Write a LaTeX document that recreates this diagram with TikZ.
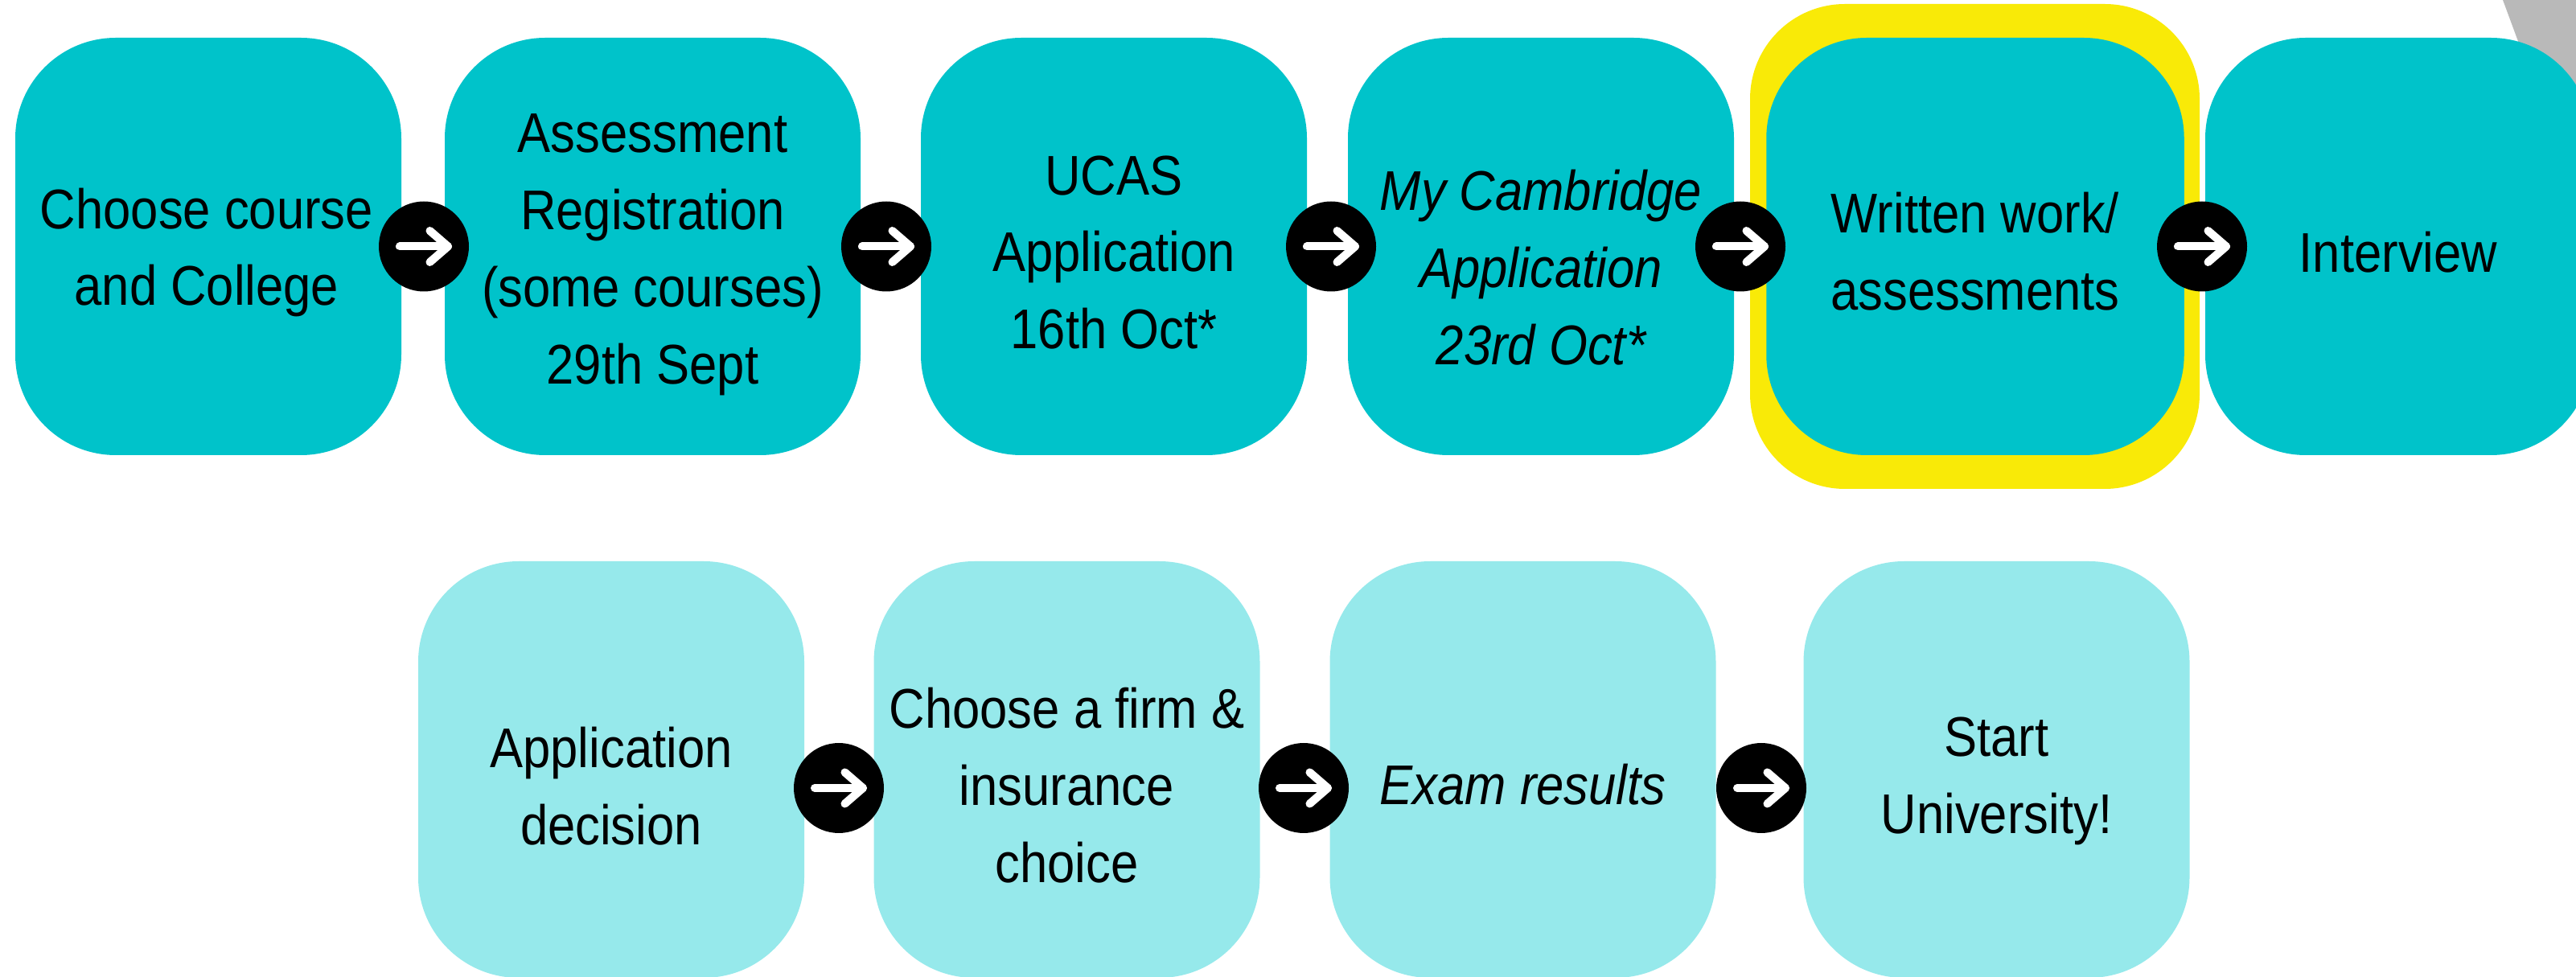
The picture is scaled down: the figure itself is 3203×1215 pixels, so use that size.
\documentclass[tikz,border=0pt]{standalone}
\usepackage{fontspec}
\setmainfont{Liberation Sans}[FakeStretch=0.885]
\definecolor{cyanA}{HTML}{00C3CA}
\definecolor{cyanB}{HTML}{96E9EB}
\definecolor{yellowA}{HTML}{F9EA07}
\definecolor{greyA}{HTML}{B9B9B9}
\tikzset{
  box/.style={rectangle, rounded corners=12.5mm, fill=cyanA, inner sep=0pt, minimum width=48mm, minimum height=51.9mm},
  lightbox/.style={box, fill=cyanB, minimum height=51.8mm},
  hilite/.style={rectangle, rounded corners=11.8mm, fill=yellowA, inner sep=0pt},
  arr/.style={circle, fill=black, minimum size=11.2mm, inner sep=0pt},
  whitearrow/.style={draw=white, line width=1mm, line cap=round, line join=round},
  lbl/.style={font=\fontsize{19.8}{27.3}\selectfont, align=center, inner sep=0pt, text=black},
  fwd/.pic={\draw[whitearrow] (-3mm,0) -- (3mm,0);
            \draw[whitearrow] (0.75mm,1.95mm) -- (3mm,0) -- (0.75mm,-1.95mm);}
}
\begin{document}
\begin{tikzpicture}[x=0.1mm,y=-0.1mm]
\useasboundingbox (0,0) rectangle (3203,1215);
\clip (0,0) rectangle (3203,1215);
% grey shape at top right
\fill[greyA] (3112,0) -- (3400,0) -- (3400,400) -- (3260,400) -- cycle;
% highlight
\node[hilite, minimum width=55.9mm, minimum height=60.3mm] (hl) at (2455.5,306.5) {};
% row 1 boxes
\node[box] (b1) at (259,306.5) {};
\node[box, minimum width=51.7mm] (b2) at (811.5,306.5) {};
\node[box] (b3) at (1385,306.5) {};
\node[box] (b4) at (1916,306.5) {};
\node[box, minimum width=51.95mm] (b5) at (2456,306.5) {};
\node[box] (b6) at (2982,306.5) {};
% row 2 boxes
\node[lightbox] (b7) at (760,957) {};
\node[lightbox] (b8) at (1326.5,957) {};
\node[lightbox] (b9) at (1893.5,957) {};
\node[lightbox] (b10) at (2482.5,957) {};
% texts
\node[lbl] (t1) at (257,314) {Choose course\\and College};
\node[lbl] (t2) at (811.5,317) {Assessment\\Registration\\(some courses)\\29th Sept};
\node[lbl] (t3) at (1385,314) {UCAS\\Application\\16th Oct*};
\node[lbl, font=\fontsize{19.8}{27.3}\selectfont\itshape] (t4) at (1916,333) {My Cambridge\\Application\\23rd Oct*};
\node[lbl] (t5) at (2456,313) {Written work/\\assessments};
\node[lbl] (t6) at (2982,314) {Interview};
\node[lbl] (t7) at (760,978) {Application\\decision};
\node[lbl] (t8) at (1326.5,977) {Choose a firm \&\\insurance\\choice};
\node[lbl, font=\fontsize{19.8}{27.3}\selectfont\itshape] (t9) at (1893.5,976) {Exam results};
\node[lbl] (t10) at (2482.5,971) {Start\\University!};
% arrow icons
\node[arr] (a1) at (527,306.5) {};
\node[arr] (a2) at (1102,306.5) {};
\node[arr] (a3) at (1655,306.5) {};
\node[arr] (a4) at (2164,306.5) {};
\node[arr] (a5) at (2738,306.5) {};
\node[arr] (a6) at (1043,980) {};
\node[arr] (a7) at (1621,980) {};
\node[arr] (a8) at (2190,980) {};
\foreach \a in {a1,a2,a3,a4,a5,a6,a7,a8} { \pic at (\a) {fwd}; }
\end{tikzpicture}
\end{document}
